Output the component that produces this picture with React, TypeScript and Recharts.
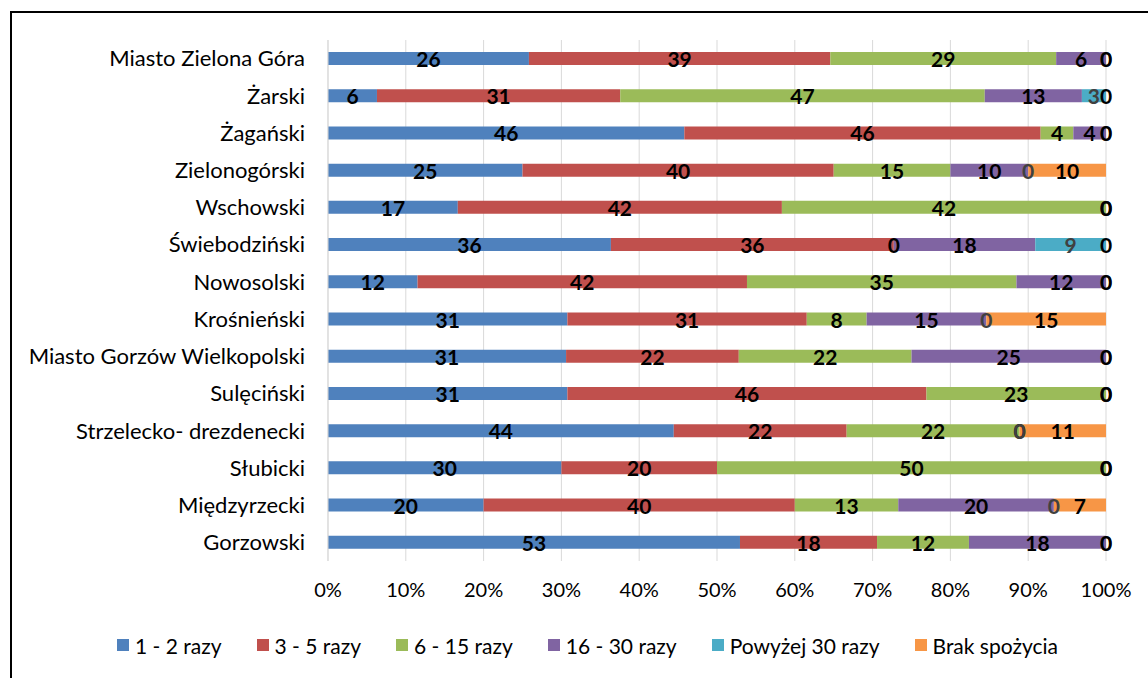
import React from 'react';
import { BarChart, Bar, XAxis, YAxis, CartesianGrid, Legend, LabelList } from 'recharts';

const categories = [
  'Miasto Zielona Góra',
  'Żarski',
  'Żagański',
  'Zielonogórski',
  'Wschowski',
  'Świebodziński',
  'Nowosolski',
  'Krośnieński',
  'Miasto Gorzów Wielkopolski',
  'Sulęciński',
  'Strzelecko- drezdenecki',
  'Słubicki',
  'Międzyrzecki',
  'Gorzowski',
];

// share of answers, % (labels are rounded)
const raz1_2 = [25.8, 6.3, 45.8, 25, 16.7, 36.4, 11.5, 30.8, 30.6, 30.8, 44.4, 30, 20, 52.9];
const raz3_5 = [38.7, 31.3, 45.8, 40, 41.7, 36.4, 42.3, 30.8, 22.2, 46.2, 22.2, 20, 40, 17.6];
const raz6_15 = [29.0, 46.9, 4.2, 15, 41.7, 0, 34.6, 7.7, 22.2, 23.1, 22.2, 50, 13.3, 11.8];
const raz16_30 = [6.4, 12.5, 4.2, 10, 0, 18.2, 11.5, 15.4, 25, 0, 0, 0, 20, 17.6];
const powyzej30 = [0, 3.1, 0, 0, 0, 9.1, 0, 0, 0, 0, 0, 0, 0, 0];
const brak = [0, 0, 0, 10, 0, 0, 0, 15.4, 0, 0, 11.1, 0, 6.7, 0];

const xTicks = [0, 0.1, 0.2, 0.3, 0.4, 0.5, 0.6, 0.7, 0.8, 0.9, 1];

const series = [
  { key: 'r12', name: '1 - 2 razy', color: '#4F81BD', label: '#000' },
  { key: 'r35', name: '3 - 5 razy', color: '#C0504D', label: '#000' },
  { key: 'r615', name: '6 - 15 razy', color: '#9BBB59', label: '#000' },
  { key: 'r1630', name: '16 - 30 razy', color: '#8064A2', label: '#000' },
  { key: 'r30', name: 'Powyżej 30 razy', color: '#4BACC6', label: '#404040' },
  { key: 'brak', name: 'Brak spożycia', color: '#F79646', label: '#000' },
];

const FONT = 'Lato, "Open Sans", sans-serif';

const renderLegend = () => (
  <div style={{ display: 'flex', alignItems: 'center', height: 30, paddingLeft: 89, fontFamily: FONT, fontSize: 21, color: '#000' }}>
    {series.map((s) => (
      <div key={s.key} style={{ display: 'flex', alignItems: 'center', marginRight: 35 }}>
        <span style={{ width: 12, height: 12, background: s.color, display: 'inline-block', marginRight: 6 }} />
        <span>{s.name}</span>
      </div>
    ))}
  </div>
);

// zero-size segments still need their "0" label, so draw labels ourselves
const makeLabel = (color: string) => (props: any) => {
  const { x, y, width, height, value } = props;
  if (value == null || x == null) return null;
  return (
    <text
      x={Number(x) + Number(width || 0) / 2}
      y={Number(y) + Number(height || 0) / 2}
      textAnchor="middle"
      dominantBaseline="central"
      fill={color}
      style={{ fontWeight: 'bold', fontSize: 21, fontFamily: FONT }}
    >
      {String(Math.round(Number(value)))}
    </text>
  );
};

export default function App() {
  const data = categories.map((name, i) => ({
    name,
    r12: raz1_2[i],
    r35: raz3_5[i],
    r615: raz6_15[i],
    r1630: raz16_30[i],
    r30: powyzej30[i],
    brak: brak[i],
  }));

  return (
    <div style={{ position: 'relative', width: 1148, height: 678, background: '#fff', fontFamily: FONT }}>
      <style>{'body{margin:0;overflow:hidden}'}</style>
      <div style={{ position: 'absolute', left: 10, top: 11, right: 0, bottom: 0, borderTop: '2px solid #000', borderLeft: '2px solid #000' }} />
      <div style={{ position: 'absolute', left: 0, top: 0 }}>
        <BarChart
          width={1148}
          height={678}
          data={data}
          layout="vertical"
          stackOffset="expand"
          margin={{ top: 40, right: 42, bottom: 18, left: 28 }}
        >
          <CartesianGrid horizontal={false} stroke="#d9d9d9" />
          <XAxis
            type="number"
            domain={[0, 1]}
            ticks={xTicks}
            tickFormatter={(v) => `${Math.round(v * 100)}%`}
            axisLine={false}
            tickLine={false}
            tickMargin={16}
            height={69}
            tick={{ fill: '#000', fontSize: 20, fontFamily: FONT }}
          />
          <YAxis
            type="category"
            dataKey="name"
            width={300}
            axisLine={{ stroke: '#d9d9d9' }}
            tickLine={false}
            tickMargin={17}
            interval={0}
            tick={{ fill: '#000', fontSize: 22, fontFamily: FONT }}
          />
          <Legend verticalAlign="bottom" content={renderLegend} />
          {series.map((s) => (
            <Bar
              key={s.key}
              dataKey={s.key}
              name={s.name}
              stackId="a"
              fill={s.color}
              barSize={13}
              minPointSize={0.001}
              isAnimationActive={false}
            >
              <LabelList dataKey={s.key} content={makeLabel(s.label)} />
            </Bar>
          ))}
        </BarChart>
      </div>
    </div>
  );
}
